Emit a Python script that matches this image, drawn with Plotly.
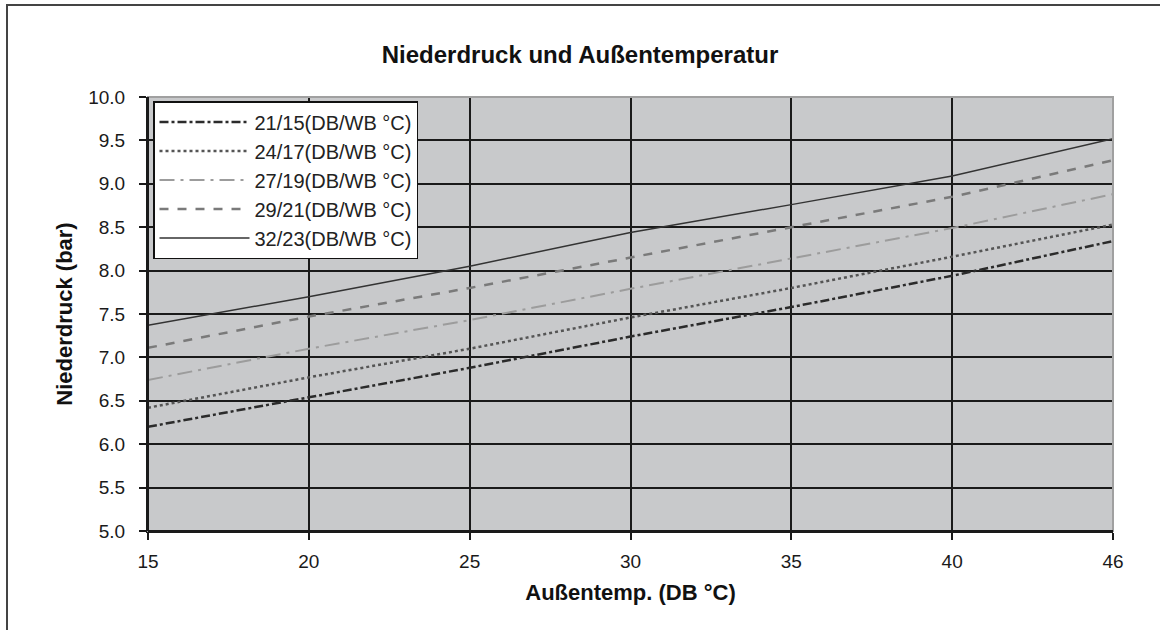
import plotly.graph_objects as go

temps = ["15", "20", "25", "30", "35", "40", "46"]
series_names = ["21/15(DB/WB °C)", "24/17(DB/WB °C)", "27/19(DB/WB °C)",
                "29/21(DB/WB °C)", "32/23(DB/WB °C)"]
s_21_15 = [6.20, 6.54, 6.88, 7.24, 7.58, 7.94, 8.34]
s_24_17 = [6.42, 6.77, 7.10, 7.46, 7.80, 8.16, 8.53]
s_27_19 = [6.74, 7.10, 7.43, 7.79, 8.14, 8.49, 8.88]
s_29_21 = [7.11, 7.47, 7.80, 8.15, 8.50, 8.85, 9.27]
s_32_23 = [7.37, 7.70, 8.05, 8.44, 8.76, 9.09, 9.52]
y_ticks = [5.0, 5.5, 6.0, 6.5, 7.0, 7.5, 8.0, 8.5, 9.0, 9.5, 10.0]

values = [s_21_15, s_24_17, s_27_19, s_29_21, s_32_23]
styles = [
    dict(color="#2b2b2b", width=2.5, dash="dashdot"),
    dict(color="#555555", width=2.5, dash="dot"),
    dict(color="#9c9c9c", width=2.0, dash="longdashdot"),
    dict(color="#7a7a7a", width=2.5, dash="dash"),
    dict(color="#333333", width=1.5, dash="solid"),
]

FONT = "Liberation Sans, Arial, sans-serif"

fig = go.Figure()
for i, (name, vals, st) in enumerate(zip(series_names, values, styles)):
    fig.add_trace(go.Scatter(x=temps, y=vals, mode="lines", name=name,
                             line=st, legendgroup=f"g{i}"))

W, H = 1160, 630
L, R, T, B = 148, 47, 97, 99
pw, ph = W - L - R, H - T - B

def px(x):
    return (x - L) / pw

def py(y):
    return 1 - (y - T) / ph

fig.update_layout(
    width=W, height=H,
    margin=dict(l=L, r=R, t=T, b=B),
    paper_bgcolor="white",
    plot_bgcolor="#c8c9cb",
    font=dict(family=FONT, color="#1a1a1a", size=17),
    title=dict(text="<b>Niederdruck und Außentemperatur</b>",
               x=0.5, xref="container", xanchor="center",
               y=1 - 55 / H, yref="container", yanchor="middle",
               font=dict(family=FONT, size=24, color="#111111")),
    showlegend=True,
    legend=dict(x=px(153), y=py(101), xanchor="left", yanchor="top",
                bgcolor="white", bordercolor="#111111", borderwidth=1.5,
                font=dict(family=FONT, size=20, color="#222222"),
                tracegroupgap=0, itemwidth=90),
    shapes=[
        dict(type="rect", xref="paper", yref="paper",
             x0=0, x1=1, y0=0, y1=1,
             line=dict(color="#a0a0a0", width=2), layer="above"),
        dict(type="line", xref="paper", yref="paper",
             x0=0, x1=0, y0=0, y1=1,
             line=dict(color="#1a1a1a", width=2), layer="above"),
        dict(type="line", xref="paper", yref="paper",
             x0=0, x1=1, y0=0, y1=0,
             line=dict(color="#1a1a1a", width=2), layer="above"),
        dict(type="rect", xref="paper", yref="paper",
             x0=px(7), x1=px(1170), y0=py(640), y1=py(5),
             line=dict(color="#444444", width=2), layer="above"),
    ],
)

fig.update_xaxes(
    type="category", categoryorder="array", categoryarray=temps,
    range=[0, 6], showgrid=True, gridcolor="#1a1a1a", gridwidth=2,
    showline=True, linecolor="#1a1a1a", linewidth=2,
    ticks="outside", ticklen=7, tickcolor="#1a1a1a", tickwidth=1.5,
    tickfont=dict(size=19), ticklabelstandoff=5,
    title=dict(text="<b>Außentemp. (DB °C)</b>", standoff=14,
               font=dict(size=22, color="#111111")),
    zeroline=False,
)
fig.update_yaxes(
    range=[5, 10], tickvals=y_ticks, ticktext=[f"{v:.1f}" for v in y_ticks],
    showgrid=True, gridcolor="#1a1a1a", gridwidth=2,
    showline=True, linecolor="#1a1a1a", linewidth=2,
    ticks="outside", ticklen=7, tickcolor="#1a1a1a", tickwidth=1.5,
    tickfont=dict(size=19), ticklabelstandoff=10,
    title=dict(text="<b>Niederdruck (bar)</b>", standoff=10,
               font=dict(size=22, color="#111111")),
    zeroline=False,
)

fig.write_html("out.html")
